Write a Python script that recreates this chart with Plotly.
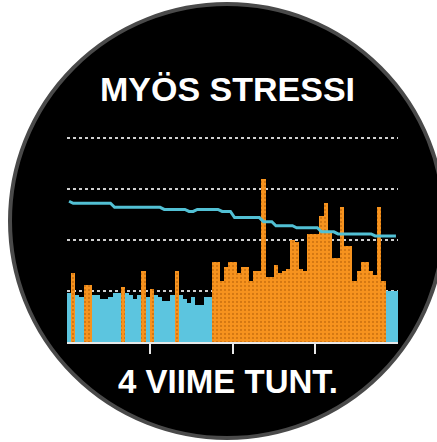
import plotly.graph_objects as go

# ---- data ----
stress = [24, 34, 23, 22, 28, 28, 23, 23, 21, 21,
          22, 24, 24, 27, 24, 23, 21, 23, 35, 22,
          26, 23, 22, 20, 20, 23, 35, 23, 21, 19,
          22, 18, 18, 22, 22, 39, 39, 30, 37, 39,
          39, 34, 37, 37, 30, 35, 35, 80, 32, 32,
          38, 34, 35, 36, 50, 49, 36, 35, 53, 53,
          53, 62, 68, 54, 41, 41, 66, 47, 47, 30,
          35, 39, 39, 35, 33, 66, 30, 25, 25, 25]
body_battery = [69, 68, 68, 68, 68, 68, 68, 68, 68, 68,
                68, 66, 66, 66, 66, 66, 66, 66, 66, 66,
                66, 66, 66, 65, 65, 65, 65, 65, 65, 64,
                64, 65, 65, 65, 65, 65, 65, 64, 64, 64,
                61, 61, 61, 61, 61, 61, 61, 59, 59, 59,
                57, 57, 57, 57, 57, 56, 56, 56, 56, 56,
                56, 54, 54, 54, 54, 53, 53, 53, 53, 53,
                53, 53, 53, 53, 52, 52, 52, 52, 52, 52]
interval_min = 3
minutes = [interval_min * i + interval_min / 2 for i in range(len(stress))]
hour_ticks = [60, 120, 180]
grid_levels = [25, 50, 75, 100]
title_text = "MYÖS STRESSI"
footer_text = "4 VIIME TUNT."

REST_COLOR = "#5cc5df"
STRESS_COLOR = "#f7931e"
LINE_COLOR = "#52c0d4"

W, H = 437, 442
fig = go.Figure()

rest_x = [m for m, s in zip(minutes, stress) if s <= 25]
rest_y = [s for s in stress if s <= 25]
str_x = [m for m, s in zip(minutes, stress) if s > 25]
str_y = [s for s in stress if s > 25]

fig.add_trace(go.Bar(x=rest_x, y=rest_y, width=interval_min,
                     marker=dict(color=REST_COLOR, line=dict(width=0)),
                     showlegend=False, hoverinfo="skip"))
fig.add_trace(go.Bar(x=str_x, y=str_y, width=interval_min,
                     marker=dict(color=STRESS_COLOR, line=dict(width=0),
                                 pattern=dict(shape=".", fgcolor="#9a4a00",
                                              bgcolor=STRESS_COLOR, size=4,
                                              solidity=0.2)),
                     showlegend=False, hoverinfo="skip"))
fig.add_trace(go.Scatter(x=minutes, y=body_battery, mode="lines",
                         line=dict(color=LINE_COLOR, width=3),
                         showlegend=False, hoverinfo="skip"))


def px(x):
    return x / W


def py(y):
    return 1 - y / H


# watch face circle
cx, cy, r = 227, 221, 217
fig.add_shape(type="circle", xref="paper", yref="paper",
              x0=px(cx - r), x1=px(cx + r), y0=py(cy + r), y1=py(cy - r),
              fillcolor="black", line=dict(color="#4a4a4a", width=4),
              layer="below")

fig.add_annotation(text=f"<b>{title_text}</b>", xref="paper", yref="paper",
                   x=px(227), y=py(89), showarrow=False,
                   font=dict(family="Liberation Sans, Arial, sans-serif",
                             size=34, color="white"),
                   xanchor="center", yanchor="middle")
fig.add_annotation(text=f"<b>{footer_text}</b>", xref="paper", yref="paper",
                   x=px(228), y=py(381), showarrow=False,
                   font=dict(family="Liberation Sans, Arial, sans-serif",
                             size=33, color="white"),
                   xanchor="center", yanchor="middle")

y_top = 101
fig.update_layout(
    width=W, height=H,
    margin=dict(l=0, r=0, t=0, b=0),
    paper_bgcolor="white",
    plot_bgcolor="rgba(0,0,0,0)",
    bargap=0,
    barmode="overlay",
    hovermode=False,
    xaxis=dict(domain=[px(67), px(398)], range=[0, 240],
               tickvals=hour_ticks, ticks="outside", ticklen=10,
               tickwidth=2, tickcolor="#e8e8e8", showticklabels=False,
               showgrid=False, zeroline=False,
               showline=True, linecolor="#e8e8e8", linewidth=2),
    yaxis=dict(domain=[py(342), py(342 - 2.04 * y_top)], range=[0, y_top],
               tickvals=grid_levels, showticklabels=False,
               showgrid=True, gridcolor="#d0d0d0", griddash="dot",
               gridwidth=2, zeroline=False, showline=False),
)

fig.write_html("out.html",
               config={"displayModeBar": False},
               post_script="document.body.style.margin='0';"
                           "document.body.style.overflow='hidden';")
